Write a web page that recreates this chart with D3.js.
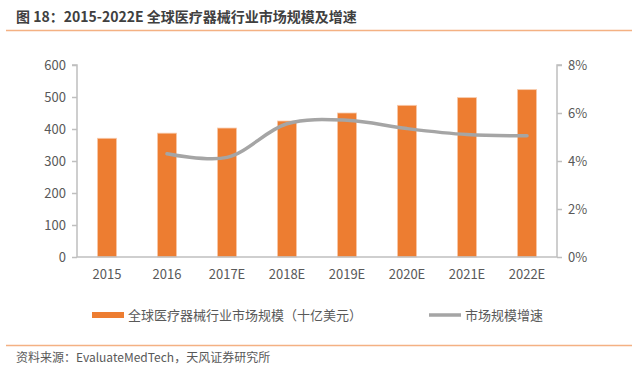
<!DOCTYPE html>
<html><head><meta charset="utf-8">
<script src="https://cdn.jsdelivr.net/npm/d3@7"></script>
<style>body{margin:0;background:#fff}svg{display:block}text{font-family:"Microsoft YaHei","Noto Sans CJK SC",sans-serif}</style>
</head><body>
<script>
const categories = ["2015","2016","2017E","2018E","2019E","2020E","2021E","2022E"];
const marketSize = [371, 387, 403, 425, 450, 474, 498, 523];
const growthRate = [null, 0.043, 0.0415, 0.0555, 0.057, 0.0535, 0.051, 0.0505];
const leftTicks = [0,100,200,300,400,500,600];
const rightTicks = [0,0.02,0.04,0.06,0.08];
const title = "图 18：2015-2022E 全球医疗器械行业市场规模及增速";
const source = "资料来源：EvaluateMedTech，天风证券研究所";
const legendBar = "全球医疗器械行业市场规模（十亿美元）";
const legendLine = "市场规模增速";

const W = 637, H = 371;
const svg = d3.select("body").append("svg").attr("width", W).attr("height", H);
const m = {left: 77, right: 557, top: 65, bottom: 257};
const x = d3.scaleBand().domain(categories).range([m.left, m.right]).paddingInner(0.68).paddingOuter(0.34);
const yL = d3.scaleLinear().domain([0,600]).range([m.bottom, m.top]);
const yR = d3.scaleLinear().domain([0,0.08]).range([m.bottom, m.top]);
const txt = "#595959", axc = "#BFBFBF";

svg.append("text").attr("x", 16).attr("y", 22).attr("font-size", 14).attr("font-weight", "bold").attr("fill", "#404040").text(title);
svg.append("line").attr("x1", 6).attr("x2", 632).attr("y1", 30.5).attr("y2", 30.5).attr("stroke", "#F4B183").attr("stroke-width", 1.5);
svg.append("line").attr("x1", 6).attr("x2", 632).attr("y1", 345.5).attr("y2", 345.5).attr("stroke", "#F4B183").attr("stroke-width", 1.5);
svg.append("text").attr("x", 16).attr("y", 362).attr("font-size", 12).attr("fill", txt).text(source);

// bars
svg.selectAll("rect.bar").data(marketSize).enter().append("rect").attr("class","bar")
  .attr("x", (d,i) => x(categories[i])).attr("width", x.bandwidth())
  .attr("y", d => yL(d)).attr("height", d => yL(0) - yL(d))
  .attr("fill", "#ED7D31").attr("stroke", "#F8CBAD").attr("stroke-width", 0.8);

// axes
const gl = svg.append("g").attr("transform", `translate(${m.left},0)`)
  .call(d3.axisLeft(yL).tickValues(leftTicks).tickSize(5).tickPadding(6));
const gr = svg.append("g").attr("transform", `translate(${m.right},0)`)
  .call(d3.axisRight(yR).tickValues(rightTicks).tickSize(5).tickPadding(6).tickFormat(d3.format(".0%")));
const gb = svg.append("g").attr("transform", `translate(0,${m.bottom})`)
  .call(d3.axisBottom(x).tickSize(0).tickPadding(13));
[gl, gr, gb].forEach(g => {
  g.selectAll("path,line").attr("stroke", axc).attr("stroke-width", 1.5);
  g.selectAll("text").attr("fill", txt).attr("font-size", 13).attr("font-family", "'Noto Sans','Open Sans',sans-serif");
});
gl.select("path.domain").attr("d", `M-5,${m.top}H0V${m.bottom}`);
gr.select("path.domain").attr("d", `M5,${m.top}H0V${m.bottom}`);
gb.select("path.domain").attr("d", `M${m.left},0H${m.right}`);

// line
const lineData = growthRate.map((v,i) => ({c: categories[i], v})).filter(d => d.v != null);
svg.append("path").datum(lineData)
  .attr("d", d3.line().x(d => x(d.c) + x.bandwidth()/2).y(d => yR(d.v)).curve(d3.curveCatmullRom.alpha(0.5)))
  .attr("fill", "none").attr("stroke", "#A5A5A5").attr("stroke-width", 3.5).attr("stroke-linecap", "round");

// legend
const ly = 315;
svg.append("rect").attr("x", 92).attr("y", ly - 3).attr("width", 32).attr("height", 6).attr("fill", "#ED7D31");
svg.append("text").attr("x", 128).attr("y", ly + 5).attr("font-size", 13).attr("fill", txt).text(legendBar);
svg.append("line").attr("x1", 429).attr("x2", 461).attr("y1", ly).attr("y2", ly).attr("stroke", "#A5A5A5").attr("stroke-width", 3.5);
svg.append("text").attr("x", 465).attr("y", ly + 5).attr("font-size", 13).attr("fill", txt).text(legendLine);
</script>
</body></html>
